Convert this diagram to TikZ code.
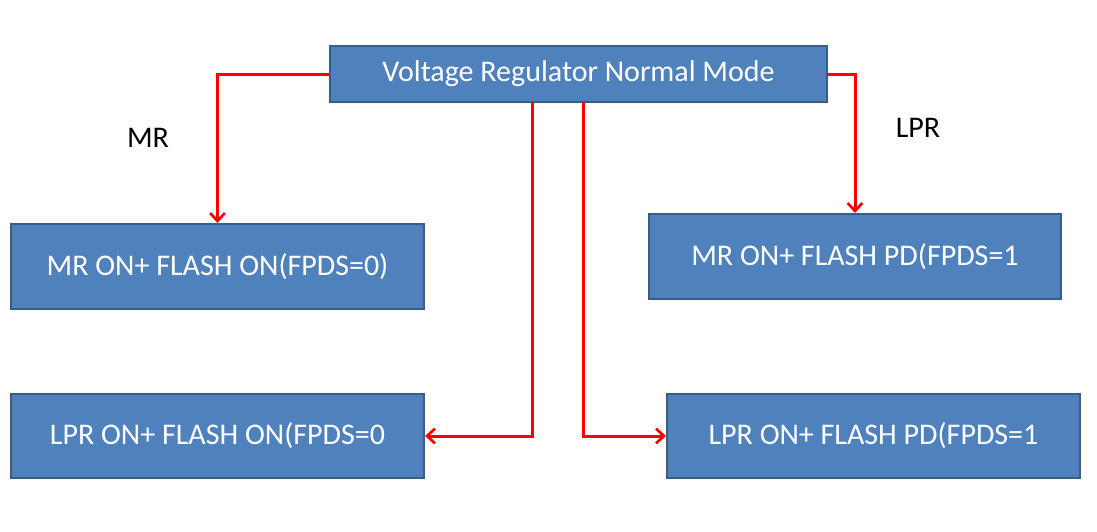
\documentclass[tikz,border=0pt]{standalone}
\usepackage{fontspec}
\setmainfont{Carlito}
\usetikzlibrary{arrows.meta}
\definecolor{boxfill}{RGB}{79,129,189}
\definecolor{boxline}{RGB}{56,93,138}
\tikzset{every picture/.style={line width=0.75pt}}
\tikzset{
  modebox/.style={draw=boxline, fill=boxfill, line width=1.5pt, text=white, inner sep=0pt,
    font=\fontsize{22.5}{27}\selectfont},
  redline/.style={draw=red, line width=2.25pt, -{Straight Barb[length=6pt,width=11pt,line width=2pt]}},
  lbl/.style={inner sep=0.75pt, font=\fontsize{22.5}{27}\selectfont}
}

\begin{document}
\begin{tikzpicture}[x=0.75pt,y=0.75pt,yscale=-1,xscale=1]
\path (0,0) rectangle (1097,532);

% Boxes
\node [modebox, minimum width=372.75pt, minimum height=42pt] (normal) at (578.5,74) {Voltage Regulator Normal Mode};
\node [modebox, minimum width=309.75pt, minimum height=63.75pt] (mron) at (217.5,266.5) {MR ON+ FLASH ON(FPDS=0)};
\node [modebox, minimum width=309pt, minimum height=63.75pt] (mrpd) at (855,256.5) {MR ON+ FLASH PD(FPDS=1};
\node [modebox, minimum width=309.75pt, minimum height=63pt] (lpron) at (217.5,436) {LPR ON+ FLASH ON(FPDS=0};
\node [modebox, minimum width=309.75pt, minimum height=63pt] (lprpd) at (873.5,436) {LPR ON+ FLASH PD(FPDS=1};

% Connectors
\coordinate (outl) at (532,102);
\coordinate (outr) at (583,102);
\draw [redline] (normal.west) -| (mron.north);
\draw [redline] (normal.east) -| (mrpd.north);
\draw [redline] (outl) |- (lpron.east);
\draw [redline] (outr) |- (lprpd.west);

% Text Node
\node [lbl] (mr) at (148,138) {MR};
% Text Node
\node [lbl] (lpr) at (918,128) {LPR};

\end{tikzpicture}
\end{document}
